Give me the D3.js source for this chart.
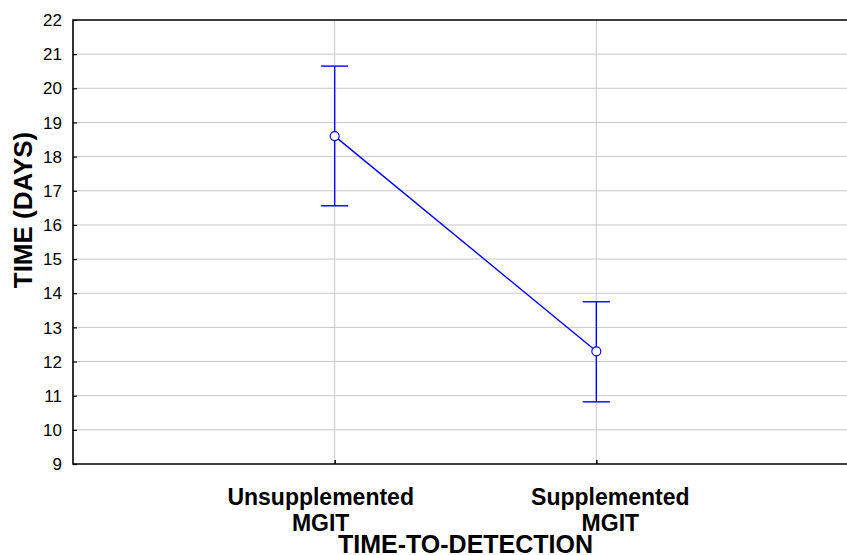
<!DOCTYPE html>
<html lang="en">
<head>
<meta charset="UTF-8">
<style>
    body {margin: 0; background: #ffffff;}
    svg {display: block; font-family: "Liberation Sans", Arial, sans-serif;}
</style>
</head>
<body>
<div id="chart"></div>
<script src="https://d3js.org/d3.v7.min.js"></script>
<script>
// data
var groups = ["Unsupplemented MGIT", "Supplemented MGIT"];
var groupLines = [["Unsupplemented", "MGIT"], ["Supplemented", "MGIT"]];
var means = [18.6, 12.3];
var upper = [20.65, 13.75];
var lower = [16.56, 10.82];
var yTicks = [9, 10, 11, 12, 13, 14, 15, 16, 17, 18, 19, 20, 21, 22];
var labelShift = [-14, 14];

var W = 847, H = 555;
var margin = {top: 20, left: 73, bottom: 464, right: 858};

var svg = d3.select("#chart").append("svg")
    .attr("width", W)
    .attr("height", H);

var x = d3.scalePoint().domain(groups).range([margin.left, margin.right]).padding(1);
var y = d3.scaleLinear().domain([9, 22]).range([margin.bottom, margin.top]);

// horizontal grid
svg.append("g").selectAll("line")
    .data(yTicks.slice(1, -1))
    .enter().append("line")
    .attr("x1", margin.left).attr("x2", margin.right)
    .attr("y1", function(d) { return y(d); })
    .attr("y2", function(d) { return y(d); })
    .attr("stroke", "#c8c8c8").attr("stroke-width", 1);

// vertical grid
svg.append("g").selectAll("line")
    .data(groups)
    .enter().append("line")
    .attr("x1", function(d) { return x(d); })
    .attr("x2", function(d) { return x(d); })
    .attr("y1", margin.top).attr("y2", margin.bottom)
    .attr("stroke", "#c8c8c8").attr("stroke-width", 1);

// frame: top, left, bottom
svg.append("path")
    .attr("d", "M" + margin.right + "," + margin.top + "H" + margin.left + "V" + margin.bottom + "H" + margin.right)
    .attr("fill", "none").attr("stroke", "#000").attr("stroke-width", 1.6);

// y axis ticks and labels (ticks point inward)
var yAxis = svg.append("g")
    .attr("transform", "translate(" + margin.left + ",0)")
    .call(d3.axisRight(y).tickValues(yTicks).tickSize(4).tickFormat(""));
yAxis.select(".domain").remove();
yAxis.selectAll("line").attr("stroke", "#000").attr("stroke-width", 1.2);

svg.append("g").selectAll("text")
    .data(yTicks)
    .enter().append("text")
    .attr("x", margin.left - 11)
    .attr("y", function(d) { return y(d); })
    .attr("dy", "0.36em")
    .attr("text-anchor", "end")
    .attr("font-size", "17px")
    .attr("fill", "#000")
    .text(function(d) { return d; });

// x ticks (inward)
var xAxis = svg.append("g")
    .attr("transform", "translate(0," + margin.bottom + ")")
    .call(d3.axisTop(x).tickSize(4).tickFormat(""));
xAxis.select(".domain").remove();
xAxis.selectAll("line").attr("stroke", "#000").attr("stroke-width", 1.5);

// category labels
var cats = svg.append("g").selectAll("text")
    .data(groups)
    .enter().append("text")
    .attr("text-anchor", "middle")
    .attr("font-size", "23px")
    .attr("font-weight", "bold")
    .attr("fill", "#000");
cats.each(function(d, i) {
    var t = d3.select(this);
    groupLines[i].forEach(function(line, j) {
        t.append("tspan")
            .attr("x", x(d) + labelShift[i])
            .attr("y", 505 + j * 26)
            .text(line);
    });
});

// axis titles
svg.append("text")
    .attr("x", (margin.left + margin.right) / 2)
    .attr("y", 553)
    .attr("text-anchor", "middle")
    .attr("font-size", "25px")
    .attr("font-weight", "bold")
    .text("TIME-TO-DETECTION");

svg.append("text")
    .attr("transform", "translate(32,210) rotate(-90)")
    .attr("text-anchor", "middle")
    .attr("font-size", "26px")
    .attr("font-weight", "bold")
    .text("TIME (DAYS)");

// error bars
var blue = "#0000ff";
var capW = 13.5;
var bars = svg.append("g").attr("stroke", blue).attr("stroke-width", 1.4);
groups.forEach(function(g, i) {
    var cx = x(g);
    bars.append("line").attr("x1", cx).attr("x2", cx)
        .attr("y1", y(upper[i])).attr("y2", y(lower[i]));
    bars.append("line").attr("x1", cx - capW).attr("x2", cx + capW)
        .attr("y1", y(upper[i])).attr("y2", y(upper[i]));
    bars.append("line").attr("x1", cx - capW).attr("x2", cx + capW)
        .attr("y1", y(lower[i])).attr("y2", y(lower[i]));
});

// mean line
svg.append("path")
    .datum(means)
    .attr("d", d3.line()
        .x(function(d, i) { return x(groups[i]); })
        .y(function(d) { return y(d); }))
    .attr("fill", "none").attr("stroke", blue).attr("stroke-width", 1.4);

// mean points
svg.append("g").selectAll("circle")
    .data(means)
    .enter().append("circle")
    .attr("cx", function(d, i) { return x(groups[i]); })
    .attr("cy", function(d) { return y(d); })
    .attr("r", 4.5)
    .attr("fill", "#fff")
    .attr("stroke", blue)
    .attr("stroke-width", 1.2);
</script>
</body>
</html>
